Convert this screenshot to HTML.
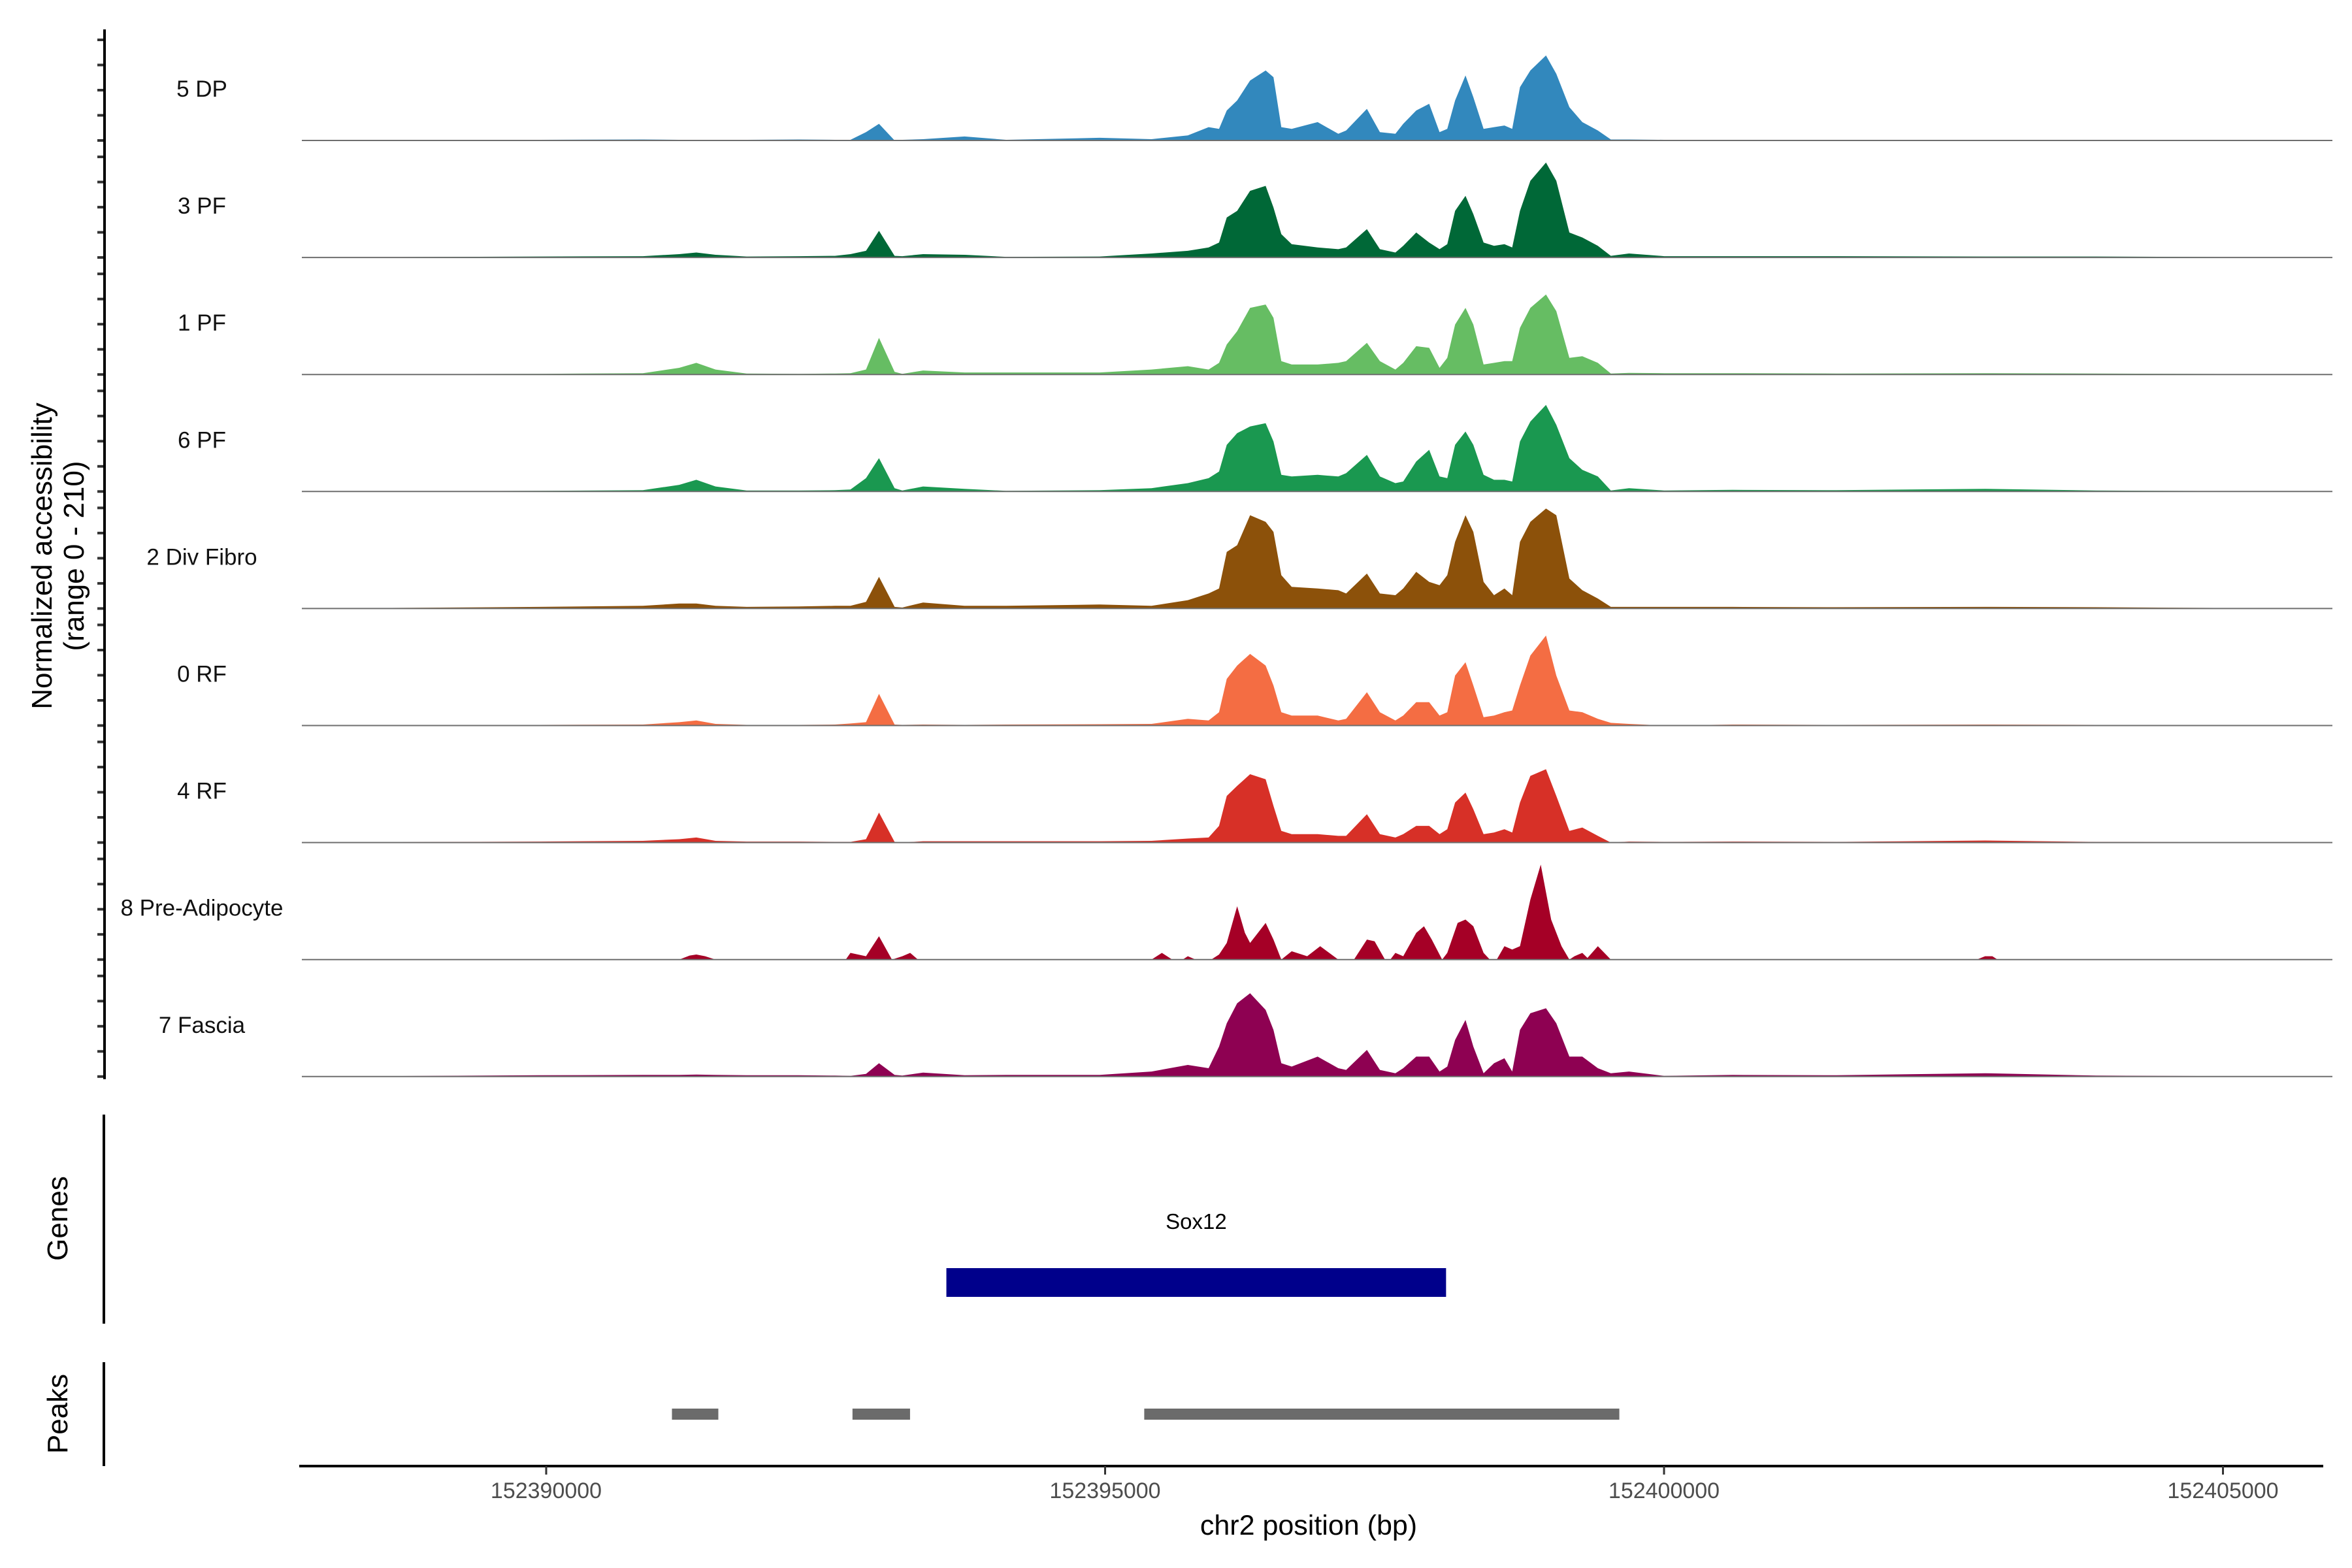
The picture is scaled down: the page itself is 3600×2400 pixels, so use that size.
<!DOCTYPE html>
<html><head><meta charset="utf-8"><style>
html,body{margin:0;padding:0;background:#fff;}
svg{display:block;font-family:"Liberation Sans",Arial,sans-serif;}
</style></head><body>
<svg id="chart" width="3600" height="2400" viewBox="0 0 3600 2400" xmlns="http://www.w3.org/2000/svg">
<rect x="0" y="0" width="3600" height="2400" fill="#fff"/>
<g id="tracks"></g>
<g id="yaxis"></g>
<text transform="translate(79,851) rotate(-90)" text-anchor="middle" font-size="44" fill="#000">Normalized accessibility</text>
<text transform="translate(128,851) rotate(-90)" text-anchor="middle" font-size="44" fill="#000">(range 0 - 210)</text>
<line x1="159" y1="1706" x2="159" y2="2026" stroke="#000" stroke-width="4"/>
<text transform="translate(103,1865) rotate(-90)" text-anchor="middle" font-size="44" fill="#000">Genes</text>
<line x1="159" y1="2085" x2="159" y2="2244" stroke="#000" stroke-width="4"/>
<text transform="translate(103,2164) rotate(-90)" text-anchor="middle" font-size="44" fill="#000">Peaks</text>
<g id="genes"></g>
<g id="peaks"></g>
<line x1="458" y1="2244" x2="3556" y2="2244" stroke="#000" stroke-width="4"/>
<g id="xaxis"></g>
<text x="2003" y="2349" text-anchor="middle" font-size="43" fill="#000">chr2 position (bp)</text>
</svg>
<script>
const trackNames = ["5 DP","3 PF","1 PF","6 PF","2 Div Fibro","0 RF","4 RF","8 Pre-Adipocyte","7 Fascia"];
const trackColors = ["#3288bd","#006837","#66bd63","#1a9850","#8c510a","#f46d43","#d73027","#a50026","#8e0152"];
const positions = [152387870,152389936,152390865,152391190,152391343,152391515,152391793,152392258,152392583,
152392722,152392861,152392977,152393117,152393186,152393372,152393743,152394115,152394951,152395415,
152395740,152395926,152396019,152396088,152396181,152396297,152396436,152396506,152396576,152396669,
152396901,152397086,152397156,152397342,152397458,152397597,152397667,152397783,152397899,152397992,
152398061,152398131,152398224,152398294,152398386,152398479,152398572,152398642,152398711,152398804,
152398944,152399036,152399153,152399269,152399408,152399524,152399687,152400002,
152400615,152401544,152402872,152403865,152405875];
const valsDP = [0,2,3,2,2,2,2,3,2, 2,25,50,0,2,4,12,2,8,4,15,40,35,90,120,180,210,190,40,35,55,20,30,95,25,20,50,90,110,25,35,120,195,130,35,40,45,35,160,210,255,200,100,55,30,3,3,2, 2,2,2,2,0];
const vals3PF = [0,3,4,10,15,8,3,4,5, 10,20,80,5,4,10,8,2,3,12,20,30,45,120,140,200,215,150,70,40,30,25,30,85,25,15,35,75,45,25,40,140,185,130,45,35,40,30,140,230,285,230,75,60,35,5,12,4, 4,4,3,3,0];
const vals1PF = [0,2,4,20,35,15,3,2,3, 4,15,110,8,2,12,6,6,6,15,25,15,35,90,130,200,210,170,40,30,30,35,40,95,40,15,35,85,80,20,50,150,200,150,30,35,40,40,140,200,240,190,50,55,35,3,5,4, 4,3,4,3,0];
const vals6PF = [0,2,4,20,35,15,3,3,4, 6,40,100,10,3,15,8,2,4,10,25,40,60,140,175,195,205,150,50,45,50,45,55,110,45,25,30,90,125,45,40,140,180,140,50,35,35,30,150,210,260,200,100,65,45,3,10,3, 5,4,8,3,0];
const valsDiv = [0,5,8,15,15,8,5,6,8, 8,20,95,5,3,18,8,8,12,8,25,45,60,170,190,280,260,230,100,65,60,55,45,105,45,40,60,110,80,70,100,200,280,230,80,40,60,40,200,260,300,280,90,55,30,5,5,5, 5,4,5,4,0];
const vals0RF = [0,2,3,10,15,5,2,2,3, 6,10,95,3,2,3,2,3,4,5,20,15,40,140,180,215,180,120,40,30,30,15,20,100,40,15,30,70,70,30,40,150,190,120,25,30,40,45,120,210,270,150,45,40,20,8,5,0, 3,2,3,2,0];
const vals4RF = [0,3,5,10,15,5,3,3,2, 2,10,90,2,0,4,4,4,4,5,12,15,50,140,170,205,190,110,35,25,25,20,20,85,25,15,25,50,50,25,40,120,150,100,25,30,40,30,120,200,220,140,35,45,20,0,3,2, 3,2,6,2,0];
const valsFascia = [0,4,5,5,6,5,4,4,3, 2,8,40,5,3,12,4,5,5,15,35,25,90,160,220,250,200,140,40,30,60,25,20,80,20,10,25,60,60,15,30,110,170,90,10,40,55,15,140,190,205,160,60,60,25,10,15,2, 5,4,10,3,0];
const positionsPreAd = [152387870,152391190,152391283,152391343,152391422,152391515,152392680,152392722,152392861,152392977,152393093,152393186,152393256,152393326,
152395415,152395508,152395601,152395694,152395740,152395810,152395949,152396019,152396088,152396181,152396251,152396297,152396367,152396436,152396506,152396576,
152396669,152396808,152396924,152397086,152397226,152397342,152397411,152397504,152397551,152397597,152397667,152397783,152397853,152397922,152398015,
152398061,152398154,152398224,152398294,152398386,152398442,152398503,152398572,152398642,152398711,152398804,152398897,152398990,152399083,152399153,
152399199,152399269,152399315,152399408,152399524,152402797,152402872,152402937,152402984,152405875];
const valsPreAd = [0,0,12,15,10,0,0,20,10,70,0,10,20,0, 0,20,0,0,10,0,0,15,50,160,80,50,80,110,60,0, 25,10,40,0,0,60,55,0,0,20,10,80,100,60,0, 20,110,120,100,20,0,0,40,30,40,180,285,120,40,0, 10,20,5,40,0,0,10,10,0,0];
const seriesPositions = [positions,positions,positions,positions,positions,positions,positions,positionsPreAd,positions];
const seriesValues = [valsDP,vals3PF,vals1PF,vals6PF,valsDiv,vals0RF,vals4RF,valsPreAd,valsFascia];
const yTicks = [0,50,100,150,200];
const xTickValues = [152390000,152395000,152400000,152405000];
const genes = [{name:"Sox12", start:152393580, end:152398050}];
const peakStarts = [152391125, 152392740, 152395350];
const peakEnds = [152391540, 152393255, 152399600];

const NS = "http://www.w3.org/2000/svg";
const X0 = 836, PXBP = 855.5/5000, BP0 = 152390000;
const xScale = bp => X0 + (bp - BP0) * PXBP;
const firstBase = 215, trackStep = 179.1;
const baseY = i => firstBase + i * trackStep;
const valPx = 0.51;
const tickPx = 0.77;
const xLeft = 462, xRight = 3570;
function mk(tag, attrs, parent){ const e=document.createElementNS(NS,tag); for(const k in attrs) e.setAttribute(k,attrs[k]); parent.appendChild(e); return e; }

const tracksG = document.getElementById('tracks');
const yAxisG = document.getElementById('yaxis');
trackNames.forEach((name,i)=>{
  const b = baseY(i);
  const pos = seriesPositions[i], vals = seriesValues[i];
  let d = "M" + Math.max(xLeft, xScale(pos[0])).toFixed(1) + "," + b;
  for(let k=0;k<pos.length;k++){
    const x = Math.min(xRight, Math.max(xLeft, xScale(pos[k])));
    d += " L" + x.toFixed(1) + "," + (b - vals[k]*valPx).toFixed(1);
  }
  d += " L" + Math.min(xRight, xScale(pos[pos.length-1])).toFixed(1) + "," + b + " Z";
  const area = mk('path',{d:d, fill:trackColors[i], stroke:"none"},tracksG);
  
  
  const bl = mk('line',{x1:xLeft,y1:b,x2:xRight,y2:b,stroke:"#6e6e6e","stroke-width":2},tracksG);
  
  
  const lab = mk('text',{x:309,y:b-67,"text-anchor":"middle","font-size":35,fill:"#111"},tracksG);
  lab.textContent = name;
  
  
  yTicks.forEach(v=>{
    const ty = b - v*tickPx;
    const t = mk('line',{x1:149,y1:ty,x2:160,y2:ty,stroke:"#333","stroke-width":4},yAxisG);
    
    
  });
});
const ax = mk('line',{x1:160,y1:45,x2:160,y2:baseY(8)+4,stroke:"#000","stroke-width":4},yAxisG);



const genesG = document.getElementById('genes');
genes.forEach(g=>{
  const r = mk('rect',{x:xScale(g.start),y:1941,width:xScale(g.end)-xScale(g.start),height:44,fill:"#00008b"},genesG);
  
  
  const t = mk('text',{x:(xScale(g.start)+xScale(g.end))/2,y:1881,"text-anchor":"middle","font-size":33,fill:"#000"},genesG);
  t.textContent = g.name;
  
  
});
const peaksG = document.getElementById('peaks');
peakStarts.forEach((s,k)=>{
  const r = mk('rect',{x:xScale(s),y:2156,width:xScale(peakEnds[k])-xScale(s),height:17,fill:"#6b6b6b"},peaksG);
  
  
});
const xAxisG = document.getElementById('xaxis');
xTickValues.forEach(v=>{
  const x = xScale(v);
  const t = mk('line',{x1:x,y1:2244,x2:x,y2:2257,stroke:"#333","stroke-width":3},xAxisG);
  
  
  const l = mk('text',{x:x,y:2293,"text-anchor":"middle","font-size":34,fill:"#4d4d4d"},xAxisG);
  l.textContent = String(v);
  
  
});
</script>
</body></html>
